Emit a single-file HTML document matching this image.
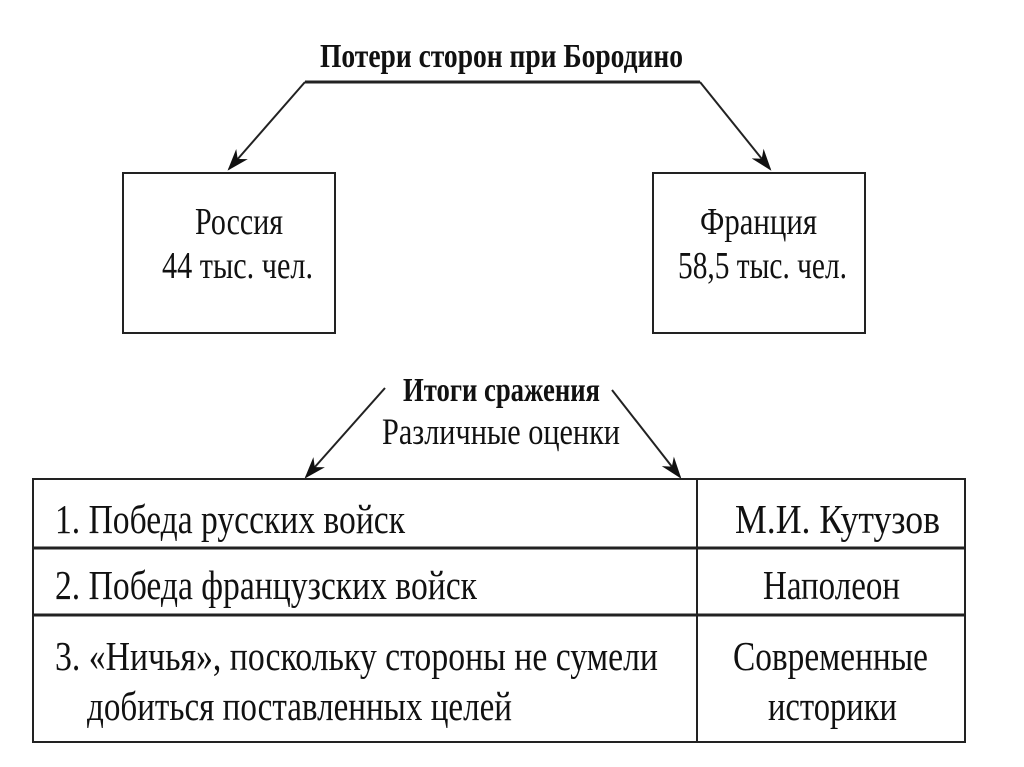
<!DOCTYPE html>
<html><head><meta charset="utf-8"><style>html,body{margin:0;padding:0;background:#fff}svg{display:block}</style></head>
<body>
<svg width="1024" height="767" viewBox="0 0 1024 767" xmlns="http://www.w3.org/2000/svg" font-family="'Liberation Serif', 'DejaVu Serif', serif" fill="#111">
<defs>
<marker id="b" viewBox="0 0 10 10" refX="9" refY="5" markerWidth="22" markerHeight="22" markerUnits="userSpaceOnUse" orient="auto"><path d="M0,1.5 L10,5 L0,8.5 L3,5z" fill="#111"/></marker></defs>
<g stroke="#222" stroke-width="2" fill="none">
<line x1="305" y1="82" x2="700" y2="82" stroke-width="3"/>
<line x1="305" y1="82" x2="229" y2="169" marker-end="url(#b)"/>
<line x1="700" y1="82" x2="770" y2="169" marker-end="url(#b)"/>
<rect x="123" y="173" width="212" height="160"/>
<rect x="653" y="173" width="212" height="160"/>
<line x1="385" y1="388" x2="306" y2="477" marker-end="url(#b)"/>
<line x1="612" y1="390" x2="680" y2="477" marker-end="url(#b)"/>
<rect x="33" y="479" width="932" height="263"/>
<line x1="33" y1="548" x2="965" y2="548" stroke-width="3"/>
<line x1="33" y1="615" x2="965" y2="615" stroke-width="3"/>
<line x1="697" y1="479" x2="697" y2="742"/>
</g>
<text x="320" y="67" font-size="34" font-weight="bold" textLength="363" lengthAdjust="spacingAndGlyphs">Потери сторон при Бородино</text>
<text x="195" y="234" font-size="38" textLength="88" lengthAdjust="spacingAndGlyphs">Россия</text>
<text x="162" y="278" font-size="38" textLength="151" lengthAdjust="spacingAndGlyphs">44 тыс. чел.</text>
<text x="700" y="234" font-size="38" textLength="117" lengthAdjust="spacingAndGlyphs">Франция</text>
<text x="678" y="278" font-size="38" textLength="169" lengthAdjust="spacingAndGlyphs">58,5 тыс. чел.</text>
<text x="403" y="401" font-size="34" font-weight="bold" textLength="197" lengthAdjust="spacingAndGlyphs">Итоги сражения</text>
<text x="382" y="444" font-size="37" textLength="238" lengthAdjust="spacingAndGlyphs">Различные оценки</text>
<g font-size="41">
<text x="55" y="533" textLength="350" lengthAdjust="spacingAndGlyphs">1. Победа русских войск</text>
<text x="735" y="533" textLength="205" lengthAdjust="spacingAndGlyphs">М.И. Кутузов</text>
<text x="55" y="599" textLength="422" lengthAdjust="spacingAndGlyphs">2. Победа французских войск</text>
<text x="763" y="599" textLength="137" lengthAdjust="spacingAndGlyphs">Наполеон</text>
<text x="55" y="670" textLength="603" lengthAdjust="spacingAndGlyphs">3. «Ничья», поскольку стороны не сумели</text>
<text x="87" y="720" textLength="425" lengthAdjust="spacingAndGlyphs">добиться поставленных целей</text>
<text x="733" y="670" textLength="195" lengthAdjust="spacingAndGlyphs">Современные</text>
<text x="768" y="720" textLength="129" lengthAdjust="spacingAndGlyphs">историки</text>
</g>
</svg>
</body></html>
